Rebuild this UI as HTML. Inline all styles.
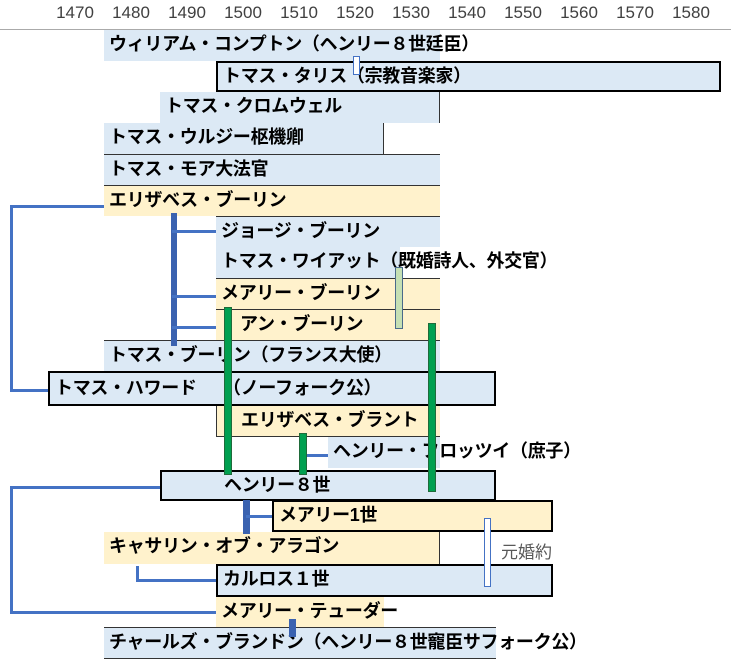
<!DOCTYPE html>
<html><head><meta charset="utf-8"><style>
body{margin:0;width:731px;height:667px;background:#fff;position:relative;overflow:hidden;font-family:"Liberation Sans","Noto Sans CJK JP",sans-serif}
.yr{position:absolute;top:3px;font-size:17px;color:#404040;width:50px;text-align:center;font-family:"Liberation Sans Narrow","Liberation Sans",sans-serif}
.b{position:absolute;box-sizing:border-box;font-weight:bold;font-size:18px;line-height:29px;padding-left:5px;white-space:nowrap;color:#000;letter-spacing:-0.3px}
.bl{background:#dce9f5}.cr{background:#fff2cc}.bd{border:2px solid #000;line-height:27px}
.l{position:absolute;background:#4472c4}
.g{position:absolute;background:#00a050;border:1px solid #1f6b3a}
</style></head><body>
<div class="yr" style="left:50px">1470</div><div class="yr" style="left:106px">1480</div><div class="yr" style="left:162px">1490</div><div class="yr" style="left:218px">1500</div><div class="yr" style="left:274px">1510</div><div class="yr" style="left:330px">1520</div><div class="yr" style="left:386px">1530</div><div class="yr" style="left:442px">1540</div><div class="yr" style="left:498px">1550</div><div class="yr" style="left:554px">1560</div><div class="yr" style="left:610px">1570</div><div class="yr" style="left:666px">1580</div>
<div style="position:absolute;left:0;top:29px;width:731px;height:1px;background:#aaa"></div>

<div class="b bl" style="left:104px;top:30px;width:336px;height:31px">ウィリアム・コンプトン（ヘンリー８世廷臣）</div>
<div class="b bl bd" style="left:216px;top:61px;width:505px;height:31px">トマス・タリス（宗教音楽家）</div>
<div class="b bl" style="left:160px;top:92px;width:280px;height:31px;border-right:1px solid #333">トマス・クロムウェル</div>
<div class="b bl" style="left:104px;top:123px;width:280px;height:31px;border-right:1px solid #333">トマス・ウルジー枢機卿</div>
<div class="b bl" style="left:104px;top:154px;width:336px;height:31px;border-top:1px solid #333">トマス・モア大法官</div>
<div class="b cr" style="left:104px;top:185px;width:336px;height:31px;border-top:1px solid #333">エリザベス・ブーリン</div>
<div class="b bl" style="left:216px;top:216px;width:224px;height:31px;border-top:1px solid #333">ジョージ・ブーリン</div>
<div class="b bl" style="left:216px;top:247px;width:224px;height:31px;background:linear-gradient(#dce9f5,#dce9f5) 0 0/184px 100% no-repeat">トマス・ワイアット（既婚詩人、外交官）</div>
<div class="b cr" style="left:216px;top:278px;width:224px;height:31px;border-top:1px solid #333">メアリー・ブーリン</div>
<div class="b cr" style="left:216px;top:309px;width:224px;height:31px;border-top:1px solid #333;padding-left:24px">アン・ブーリン</div>
<div class="b bl" style="left:104px;top:340px;width:336px;height:31px;border-top:1px solid #333">トマス・ブーリン（フランス大使）</div>
<div class="b bl bd" style="left:48px;top:371px;width:448px;height:35px;line-height:31px">トマス・ハワード　　（ノーフォーク公）</div>
<div class="b cr" style="left:216px;top:406px;width:224px;height:31px;padding-left:24px;border-left:1px solid #333;border-bottom:1px solid #333">エリザベス・ブラント</div>
<div class="b bl" style="left:328px;top:437px;width:112px;height:31px">ヘンリー・フロッツイ（庶子）</div>
<div class="b bl bd" style="left:160px;top:470px;width:336px;height:31px;padding-left:62px">ヘンリー８世</div>
<div class="b cr bd" style="left:272px;top:500px;width:281px;height:32px">メアリー1世</div>
<div class="b cr" style="left:104px;top:532px;width:336px;height:32px;border-right:1px solid #333">キャサリン・オブ・アラゴン</div>
<div class="b bl bd" style="left:216px;top:564px;width:337px;height:33px">カルロス１世</div>
<div class="b cr" style="left:216px;top:597px;width:168px;height:30px;overflow:visible">メアリー・テューダー</div>
<div class="b bl" style="left:104px;top:627px;width:392px;height:32px;border-top:1px solid #333;border-bottom:1px solid #333">チャールズ・ブランドン（ヘンリー８世寵臣サフォーク公）</div>

<div class="l" style="left:10px;top:205px;width:3px;height:186px"></div>
<div class="l" style="left:10px;top:205px;width:94px;height:3px"></div>
<div class="l" style="left:10px;top:389px;width:38px;height:3px"></div>
<div class="l" style="left:171px;top:213px;width:6px;height:133px;background:#3a62b0"></div>
<div class="l" style="left:172px;top:230px;width:44px;height:3px"></div>
<div class="l" style="left:172px;top:295px;width:44px;height:3px"></div>
<div class="l" style="left:172px;top:326px;width:44px;height:3px"></div>
<div class="l" style="left:306px;top:454px;width:22px;height:3px"></div>
<div class="l" style="left:10px;top:486px;width:3px;height:127px"></div>
<div class="l" style="left:10px;top:486px;width:150px;height:3px"></div>
<div class="l" style="left:10px;top:611px;width:206px;height:3px"></div>
<div class="l" style="left:243px;top:500px;width:7px;height:34px;background:#3a62b0"></div>
<div class="l" style="left:246px;top:515px;width:26px;height:3px"></div>
<div class="l" style="left:136px;top:566px;width:3px;height:16px"></div>
<div class="l" style="left:136px;top:579px;width:80px;height:3px"></div>
<div class="l" style="left:289px;top:619px;width:7px;height:18px;background:#3a62b0"></div>
<div class="g" style="left:224px;top:307px;width:6px;height:166px"></div>
<div class="g" style="left:299px;top:433px;width:6px;height:40px"></div>
<div class="g" style="left:428px;top:323px;width:6px;height:167px"></div>
<div style="position:absolute;left:353px;top:56px;width:5px;height:17px;border:1px solid #4472c4;background:#fff"></div>
<div style="position:absolute;left:395px;top:267px;width:6px;height:60px;border:1px solid #4a6a8a;background:#c5e0b4"></div>
<div style="position:absolute;left:484px;top:518px;width:5px;height:67px;border:1px solid #4472c4;background:#fff"></div>
<div style="position:absolute;left:501px;top:538px;font-size:17px;color:#595959;font-family:'Liberation Sans','Noto Sans CJK JP',sans-serif">元婚約</div>
</body></html>
